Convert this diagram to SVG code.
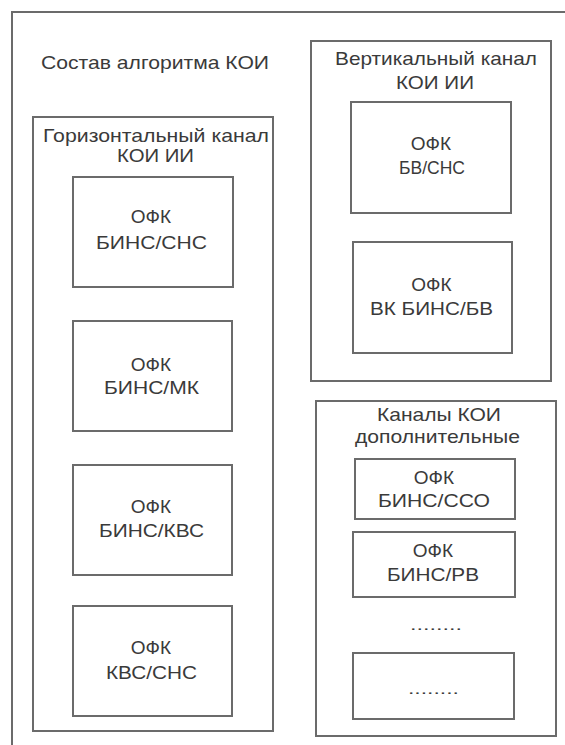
<svg xmlns="http://www.w3.org/2000/svg" width="565" height="745" viewBox="0 0 565 745">
<style>
.f{fill:none;stroke:#6b6b6b;stroke-width:2}
.b{fill:#fff;stroke:#6b6b6b;stroke-width:2}
text{font-family:"Liberation Sans",Arial,sans-serif;font-size:19px;fill:#3a3a3a;text-anchor:middle}
.d{font-size:14px}
</style>
<rect width="565" height="745" fill="#fff"/>
<g id="outer">
<rect class="f" x="12" y="12" width="600" height="800"/>
<text x="155" y="69" textLength="228" lengthAdjust="spacingAndGlyphs">Состав алгоритма КОИ</text>
</g>
<g id="horizontal">
<rect class="f" x="33" y="117" width="240" height="614"/>
<text x="156" y="142" textLength="226" lengthAdjust="spacingAndGlyphs">Горизонтальный канал</text>
<text x="155.5" y="162" textLength="77" lengthAdjust="spacingAndGlyphs">КОИ ИИ</text>
</g>
<g id="h1">
<rect class="b" x="73" y="177" width="160" height="110"/>
<text x="151" y="223">ОФК</text>
<text x="151.5" y="249" textLength="111" lengthAdjust="spacingAndGlyphs">БИНС/СНС</text>
</g>
<g id="h2">
<rect class="b" x="73" y="321" width="159" height="110"/>
<text x="151" y="371">ОФК</text>
<text x="151.5" y="394" textLength="95" lengthAdjust="spacingAndGlyphs">БИНС/МК</text>
</g>
<g id="h3">
<rect class="b" x="73" y="465" width="159" height="110"/>
<text x="151" y="513">ОФК</text>
<text x="151.5" y="537" textLength="105" lengthAdjust="spacingAndGlyphs">БИНС/КВС</text>
</g>
<g id="h4">
<rect class="b" x="73" y="606" width="159" height="110"/>
<text x="151" y="654">ОФК</text>
<text x="151.5" y="679" textLength="91" lengthAdjust="spacingAndGlyphs">КВС/СНС</text>
</g>
<g id="vertical">
<rect class="f" x="311" y="41" width="240" height="340"/>
<text x="436" y="65" textLength="202" lengthAdjust="spacingAndGlyphs">Вертикальный канал</text>
<text x="435" y="89" textLength="78" lengthAdjust="spacingAndGlyphs">КОИ ИИ</text>
</g>
<g id="v1">
<rect class="b" x="351" y="102" width="160" height="111"/>
<text x="431" y="150">ОФК</text>
<text x="432" y="174" textLength="66" lengthAdjust="spacingAndGlyphs">БВ/СНС</text>
</g>
<g id="v2">
<rect class="b" x="353" y="242" width="159" height="111"/>
<text x="431.5" y="291">ОФК</text>
<text x="431.5" y="315" textLength="123" lengthAdjust="spacingAndGlyphs">ВК БИНС/БВ</text>
</g>
<g id="additional">
<rect class="f" x="316" y="401" width="240" height="335"/>
<text x="439" y="421" textLength="124" lengthAdjust="spacingAndGlyphs">Каналы КОИ</text>
<text x="437.5" y="443" textLength="165" lengthAdjust="spacingAndGlyphs">дополнительные</text>
<text class="d" x="436" y="630" textLength="52" lengthAdjust="spacingAndGlyphs">........</text>
</g>
<g id="a1">
<rect class="b" x="355" y="459" width="160" height="60"/>
<text x="434" y="484">ОФК</text>
<text x="434" y="507" textLength="112" lengthAdjust="spacingAndGlyphs">БИНС/ССО</text>
</g>
<g id="a2">
<rect class="b" x="353" y="532" width="162" height="65"/>
<text x="433" y="557">ОФК</text>
<text x="433" y="581" textLength="92" lengthAdjust="spacingAndGlyphs">БИНС/РВ</text>
</g>
<g id="a3">
<rect class="b" x="353" y="653" width="161" height="66"/>
<text class="d" x="433.5" y="694" textLength="51" lengthAdjust="spacingAndGlyphs">........</text>
</g>
<g id="connectors"/>
</svg>
